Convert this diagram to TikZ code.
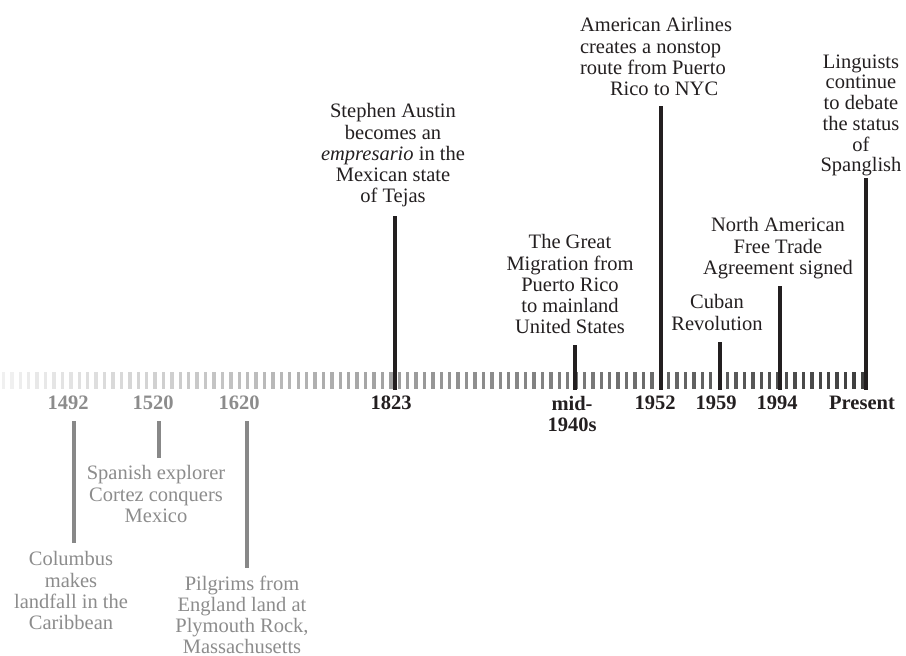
\documentclass[tikz,border=0pt]{standalone}
\usepackage{fontspec}
\setmainfont{Liberation Serif}
\definecolor{ink}{HTML}{231F20}
\definecolor{oldtext}{HTML}{8C8C8C}
\definecolor{oldline}{HTML}{888888}
\begin{document}
\begin{tikzpicture}[x=1pt,y=-1pt,
  evt/.style={font=\fontsize{20.5}{21.2}\selectfont, align=center, inner sep=0pt, anchor=north, text=ink},
  oldevt/.style={evt, text=oldtext},
  yr/.style={font=\fontsize{20.5}{21.2}\selectfont\bfseries, align=center, inner sep=0pt, anchor=north, text=ink},
  oldyr/.style={yr, text=oldtext},
  newbar/.style={draw=ink, line width=4pt},
  oldbar/.style={draw=oldline, line width=4pt}]
\useasboundingbox (0,0) rectangle (906,656);

% tick bar with gradient
\foreach \i in {0,...,102}{
  \pgfmathsetmacro{\xx}{3.5+\i*8.42}
  \pgfmathtruncatemacro{\p}{6+70*(\xx/865)}
  \fill[black!\p] (\xx-1.7,372) rectangle (\xx+1.7,389);
}

% event labels (recent)
\node[evt] (austin) at (393,103.5) {Stephen Austin\\becomes an\\\emph{empresario} in the\\Mexican state\\of Tejas};
\node[evt] (migr) at (570,234.5) {The Great\\Migration from\\Puerto Rico\\to mainland\\United States};
\node[evt, align=left] (aa) at (656,17.5) {American Airlines\\creates a nonstop\\route from Puerto\\\hspace*{30pt}Rico to NYC};
\node[evt, font=\fontsize{20.5}{20.7}\selectfont] (ling) at (861,54.5) {Linguists\\continue\\to debate\\the status\\of\\Spanglish};
\node[evt] (nafta) at (778,217.5) {North American\\Free Trade\\Agreement signed};
\node[evt] (cuba) at (717,294.5) {Cuban\\Revolution};

% event labels (early)
\node[oldevt] (cortez) at (156,465.5) {Spanish explorer\\Cortez conquers\\Mexico};
\node[oldevt] (colum) at (71,551.5) {Columbus\\makes\\landfall in the\\Caribbean};
\node[oldevt, font=\fontsize{20.5}{20.8}\selectfont] (pilg) at (242,576) {Pilgrims from\\England land at\\Plymouth Rock,\\Massachusetts};

% year labels
\node[oldyr] (y1492) at (68,396) {1492};
\node[oldyr] (y1520) at (153,396) {1520};
\node[oldyr] (y1620) at (239,396) {1620};
\node[yr] (y1823) at (391,396) {1823};
\node[yr] (ymid) at (572,396) {mid-\\1940s};
\node[yr] (y1952) at (655,396) {1952};
\node[yr] (y1959) at (716,396) {1959};
\node[yr] (y1994) at (777,396) {1994};
\node[yr] (ypres) at (862,396) {Present};

% marker end points
\coordinate (t1823) at (395,216);  \coordinate (b1823) at (395,390);
\coordinate (tmid) at (575,345);   \coordinate (bmid) at (575,390);
\coordinate (t1952) at (661,106);  \coordinate (b1952) at (661,390);
\coordinate (t1959) at (720,342);  \coordinate (b1959) at (720,390);
\coordinate (t1994) at (780,286);  \coordinate (b1994) at (780,390);
\coordinate (tpres) at (866,178);  \coordinate (bpres) at (866,390);
\coordinate (t1492) at (74,421);   \coordinate (b1492) at (74,543);
\coordinate (t1520) at (159,421);  \coordinate (b1520) at (159,458);
\coordinate (t1620) at (247,421);  \coordinate (b1620) at (247,568);

\draw[newbar] (t1823) -- (b1823);
\draw[newbar] (tmid) -- (bmid);
\draw[newbar] (t1952) -- (b1952);
\draw[newbar] (t1959) -- (b1959);
\draw[newbar] (t1994) -- (b1994);
\draw[newbar] (tpres) -- (bpres);
\draw[oldbar] (t1492) -- (b1492);
\draw[oldbar] (t1520) -- (b1520);
\draw[oldbar] (t1620) -- (b1620);
\end{tikzpicture}
\end{document}
